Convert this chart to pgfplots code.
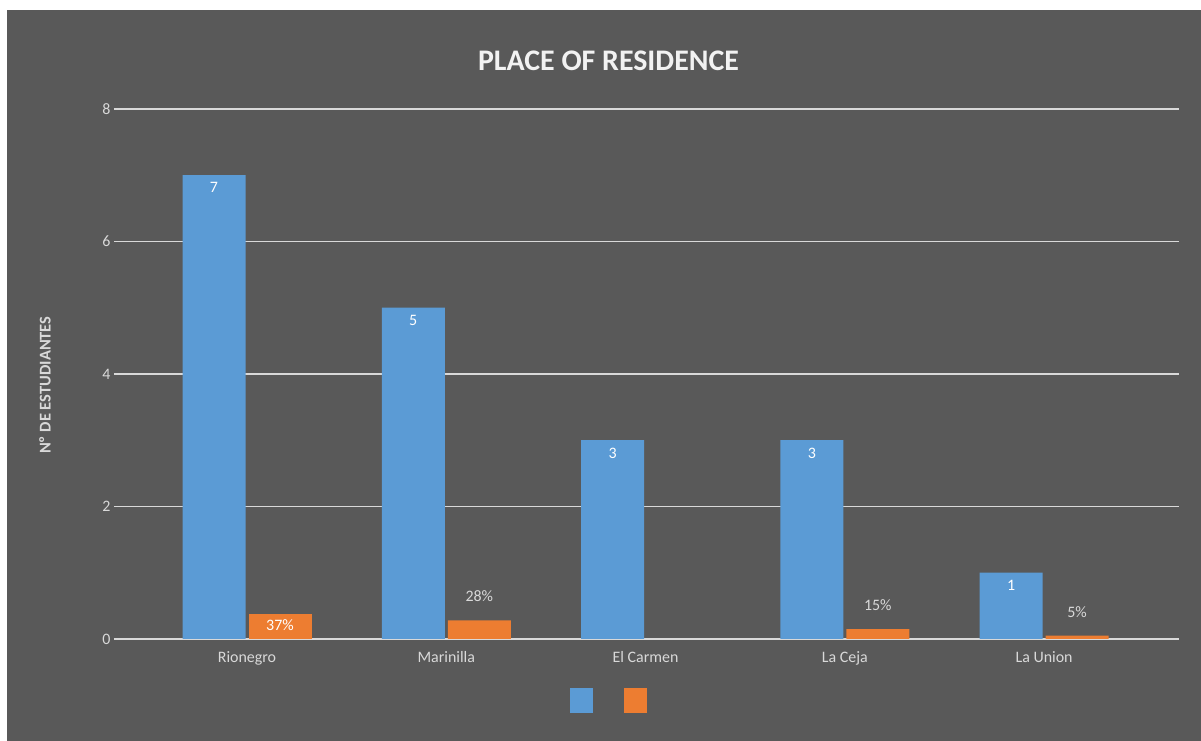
\documentclass[border=0pt]{standalone}
\usepackage{pgfplots}
\pgfplotsset{compat=1.18}
\usepackage{fontspec}
\setmainfont{Carlito}
\definecolor{bg}{HTML}{595959}
\definecolor{cblue}{HTML}{5B9BD5}
\definecolor{corange}{HTML}{ED7D31}
\definecolor{gridc}{HTML}{D9D9D9}
\definecolor{lbl}{HTML}{D9D9D9}
\begin{document}
\begin{tikzpicture}[x=1bp,y=1bp]
\fill[white] (0,0) rectangle (1201,741);
\fill[bg] (7,0) rectangle (1201,731);
\begin{axis}[
  at={(114bp,102bp)}, anchor=south west,
  scale only axis, width=1065bp, height=530bp,
  xmin=-0.6675, xmax=4.6775, ymin=0, ymax=8,
  ytick={0,2,4,6,8},
  xtick={0,1,2,3,4},
  xticklabels={Rionegro,Marinilla,El Carmen,La Ceja,La Union},
  /pgf/number format/assume math mode=true,
  axis line style={draw=none},
  major tick length=0pt,
  ymajorgrids, grid style={gridc, line width=1.8bp},
  tick label style={font=\fontsize{16}{18}\selectfont, text=lbl},
  xticklabel style={yshift=-9bp},
  clip=false,
  title={PLACE OF RESIDENCE},
  title style={at={(axis description cs:0.4643,1)}, anchor=center, yshift=42bp,
    font=\bfseries\fontsize{30}{32}\selectfont, text=white!95!black},
  ylabel={Nº DE ESTUDIANTES},
  every axis y label/.style={at={(axis description cs:-0.0648,0.479)}, rotate=90, anchor=center,
    font=\bfseries\fontsize{16.5}{18}\selectfont, text=lbl},
  legend style={at={(axis description cs:0.4643,-0.115)}, anchor=center, draw=none, fill=none,
    nodes={inner sep=0pt}, column sep=0pt,
    /tikz/every even column/.append style={column sep=31bp}},
  legend columns=2,
]
\addplot[ybar, bar width=63bp, bar shift=-33bp, fill=cblue, draw=none, forget plot,
  nodes near coords,
  every node near coord/.append style={anchor=north, xshift=-33bp, yshift=-4bp, text=white, font=\fontsize{16}{18}\selectfont}]
  coordinates {(0,7) (1,5) (2,3) (3,3) (4,1)};
\addplot[ybar, bar width=63bp, bar shift=33bp, fill=corange, draw=none, forget plot,
  nodes near coords, point meta=explicit symbolic,
  every node near coord/.append style={anchor=center, xshift=33bp, yshift=24bp, text=lbl, font=\fontsize{16}{18}\selectfont}]
  coordinates {(1,0.28) [28\%] (3,0.15) [15\%] (4,0.05) [5\%]};
\addplot[ybar, bar width=63bp, bar shift=33bp, fill=corange, draw=none, forget plot,
  nodes near coords, point meta=explicit symbolic,
  every node near coord/.append style={anchor=center, xshift=33bp, yshift=-11bp, text=white, font=\fontsize{16}{18}\selectfont}]
  coordinates {(0,0.37) [37\%]};
\addlegendimage{legend image code/.code={\fill[cblue] (0bp,-12bp) rectangle (22bp,12bp);}}
\addlegendentry{}
\addlegendimage{legend image code/.code={\fill[corange] (0bp,-12bp) rectangle (22bp,12bp);}}
\addlegendentry{}
\end{axis}
\end{tikzpicture}
\end{document}
